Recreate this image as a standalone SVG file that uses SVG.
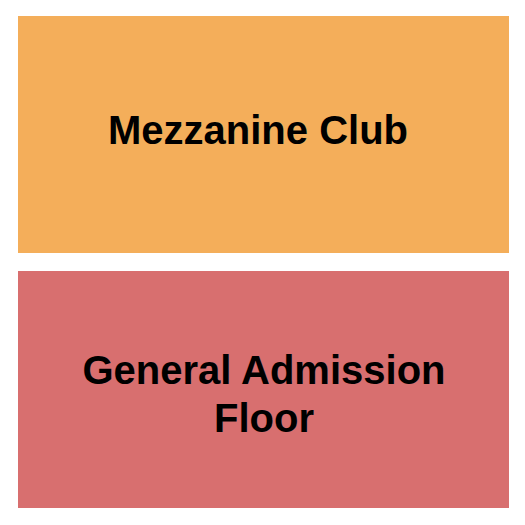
<svg xmlns="http://www.w3.org/2000/svg" width="525" height="525" viewBox="0 0 525 525">
<style>
.lbl{font-family:"Liberation Sans",Arial,sans-serif;font-weight:bold;font-size:40px;fill:#000;text-anchor:middle}
</style>
<rect width="525" height="525" fill="#fff"/>
<g id="mezzanine-club">
<rect x="18" y="16" width="491" height="237" fill="#F4AE5A"/>
<text class="lbl" x="258" y="144">Mezzanine Club</text>
</g>
<g id="general-admission-floor">
<rect x="18" y="271" width="491" height="237" fill="#D86F6F"/>
<text class="lbl" x="264" y="384">General Admission</text>
<text class="lbl" x="264" y="432">Floor</text>
</g>
<g id="connectors"/>
</svg>
